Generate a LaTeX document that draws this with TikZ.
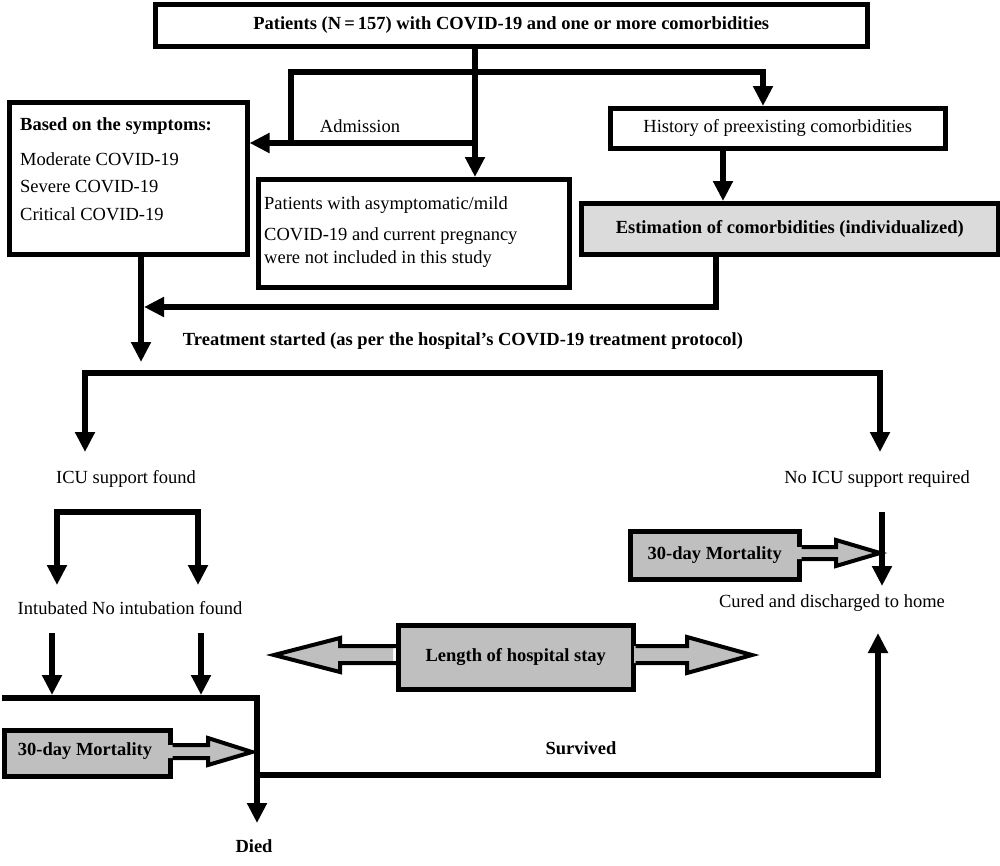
\documentclass[tikz,border=0pt]{standalone}
\usepackage{fontspec}
\setmainfont{Liberation Serif}
\usetikzlibrary{arrows.meta,calc}
\begin{document}
\begin{tikzpicture}[x=1pt,y=-1pt,
  tip/.tip={Triangle[width=19pt,length=20pt]},
  conn/.style={line width=6pt,-tip},
  conn2/.style={line width=6pt,tip-tip},
  plain/.style={line width=6pt},
  box/.style={draw,line width=4.5pt,inner sep=0pt,anchor=north west},
  txt/.style={inner sep=0pt,font=\fontsize{18.5}{22}\selectfont},
  btxt/.style={inner sep=0pt,font=\fontsize{18.5}{22}\selectfont\bfseries},
  ltxt/.style={anchor=west},
  gfill/.style={fill=black!25},
  bout/.style={draw,line width=4pt,line join=miter}
]
\useasboundingbox (0,0) rectangle (1000,865);

% boxes
\node[box,minimum width=712pt,minimum height=42pt] (top) at (153,2) {};
\node[btxt] (toptxt) at (top.center) {Patients (N\,=\,157) with COVID-19 and one or more comorbidities};

\node[box,minimum width=238pt,minimum height=152pt] (based) at (7,100) {};
\node[btxt,ltxt] (b1) at (20,126) {Based on the symptoms:};
\node[txt,ltxt] (b2) at (20,159) {Moderate COVID-19};
\node[txt,ltxt] (b3) at (20,187) {Severe COVID-19};
\node[txt,ltxt] (b4) at (20,214) {Critical COVID-19};

\node[box,minimum width=311pt,minimum height=108pt] (pat) at (256,177) {};
\node[txt,ltxt] (p1) at (264,205) {Patients with asymptomatic/mild};
\node[txt,ltxt] (p2) at (264,236) {COVID-19 and current pregnancy};
\node[txt,ltxt] (p3) at (264,259) {were not included in this study};

\node[box,minimum width=335pt,minimum height=40pt] (hist) at (608,106) {};
\node[txt] (histtxt) at (hist.center) {History of preexisting comorbidities};

\node[box,fill=black!14,minimum width=417pt,minimum height=51pt] (est) at (579,201) {};
\node[btxt] (esttxt) at (est.center) {Estimation of comorbidities (individualized)};

\node[txt] (adm) at (360,126) {Admission};
\node[btxt] (treat) at (463,341) {Treatment started (as per the hospital’s COVID-19 treatment protocol)};
\node[txt] (icu) at (126,479) {ICU support found};
\node[txt] (noicu) at (877,479) {No ICU support required};
\node[txt] (intub) at (130,608) {Intubated No intubation found};
\node[txt] (cured) at (832,603) {Cured and discharged to home};
\node[btxt] (surv) at (581,748) {Survived};
\node[btxt] (died) at (254,846) {Died};

% junction coordinates
\coordinate (j1) at (475,72);
\coordinate (j2) at (475,143);
\coordinate (jl1) at (291,72);
\coordinate (jl2) at (291,143);
\coordinate (jr) at (763,72);
\coordinate (e1) at (716,307);
\coordinate (t1) at (141,362);
\coordinate (s1) at (85,373);
\coordinate (s2) at (880,373);
\coordinate (s1e) at (85,452);
\coordinate (s2e) at (880,452);
\coordinate (i1) at (57,512);
\coordinate (i2) at (198,512);
\coordinate (i1e) at (57,585);
\coordinate (i2e) at (198,585);
\coordinate (k1) at (52,633);
\coordinate (k1e) at (52,695);
\coordinate (k2) at (201,633);
\coordinate (k2e) at (201,695);
\coordinate (m0) at (2,698);
\coordinate (m1) at (257,698);
\coordinate (m2) at (257,823);
\coordinate (m3) at (257,775);
\coordinate (m4) at (878,775);
\coordinate (m5) at (878,633);
\coordinate (n1) at (882,512);
\coordinate (n2) at (882,586);

% connectors
\draw[conn] (top.south -| j1) -- (pat.north -| j1);
\draw[conn] (jl2) -- (jl1) -- (jr) -- (hist.north -| jr);
\draw[conn] (j2) -- (based.east |- j2);
\draw[conn] (hist.south -| 723,0) -- (est.north -| 723,0);
\draw[conn] (est.south -| e1) -- (e1) -- (e1 -| 144,0);
\draw[conn] (based.south -| t1) -- (t1);
\draw[conn2] (s1e) -- (s1) -- (s2) -- (s2e);
\draw[conn2] (i1e) -- (i1) -- (i2) -- (i2e);
\draw[conn] (k1) -- (k1e);
\draw[conn] (k2) -- (k2e);
\draw[conn] (m0) -- (m1) -- (m2);
\draw[conn] (m3) -- (m4) -- (m5);
\draw[conn] (n1) -- (n2);

% gray boxes with block arrows
\node[box,gfill,minimum width=166pt,minimum height=46pt] (mortl) at (2,728) {};
\node[btxt] (mortltxt) at (85,751) {30-day Mortality};
\fill[black!25] (165,745) -- (208,745) -- (208,738) -- (252,752) -- (208,765) -- (208,758) -- (165,758) -- cycle;
\draw[bout] (mortl.east |- 0,745) -- (208,745) -- (208,738) -- (252,752) -- (208,765) -- (208,758) -- (mortl.east |- 0,758);

\node[box,gfill,minimum width=169pt,minimum height=48pt] (mortr) at (628,529) {};
\node[btxt] (mortrtxt) at (mortr.center) {30-day Mortality};
\fill[black!25] (794,547) -- (836,547) -- (836,540) -- (880,553) -- (836,566) -- (836,559) -- (794,559) -- cycle;
\draw[bout] (mortr.east |- 0,547) -- (836,547) -- (836,540) -- (880,553) -- (836,566) -- (836,559) -- (mortr.east |- 0,559);

\node[box,gfill,minimum width=235pt,minimum height=64pt] (los) at (396,623) {};
\node[btxt] (lostxt) at (los.center) {Length of hospital stay};
\fill[black!25] (634,646) -- (687,646) -- (687,637) -- (752,655) -- (687,673) -- (687,663) -- (634,663) -- cycle;
\draw[bout] (los.east |- 0,646) -- (687,646) -- (687,637) -- (752,655) -- (687,673) -- (687,663) -- (los.east |- 0,663);
\fill[black!25] (393,646) -- (340,646) -- (340,638) -- (274,655) -- (340,672) -- (340,663) -- (393,663) -- cycle;
\draw[bout] (los.west |- 0,646) -- (340,646) -- (340,638) -- (274,655) -- (340,672) -- (340,663) -- (los.west |- 0,663);
\end{tikzpicture}
\end{document}
